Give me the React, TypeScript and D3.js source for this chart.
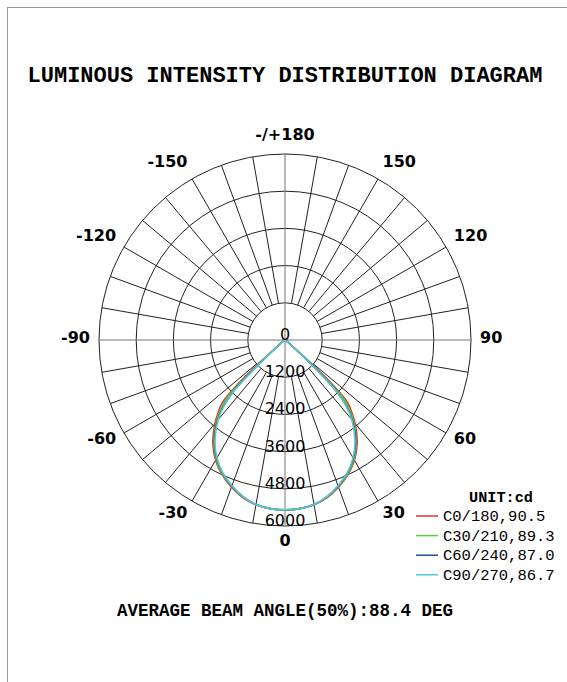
import React from 'react';
import * as d3 from 'd3';

// polar angles (deg from nadir) and intensities in cd
const angles = [0, 5, 10, 15, 20, 25, 30, 35, 40, 42.5, 45, 47.5, 50, 55, 60, 70, 80, 90];
const c0 = [5480, 5460, 5400, 5260, 5050, 4800, 4480, 4060, 3520, 3200, 2850, 1700, 300, 80, 30, 10, 0, 0];
const c30 = [5480, 5460, 5400, 5250, 5030, 4780, 4450, 4010, 3450, 3100, 2680, 1250, 280, 70, 25, 10, 0, 0];
const c60 = [5480, 5460, 5390, 5230, 5010, 4750, 4410, 3970, 3380, 2990, 2380, 950, 260, 65, 22, 8, 0, 0];
const c90 = [5480, 5460, 5390, 5230, 5000, 4740, 4390, 3940, 3350, 2950, 2330, 900, 250, 60, 20, 8, 0, 0];

const seriesNames = ['C0/180,90.5', 'C30/210,89.3', 'C60/240,87.0', 'C90/270,86.7'];
const seriesColors = ['#e8312a', '#5cc93a', '#2a4a9a', '#5ac8d4'];
const ringTicks = [1200, 2400, 3600, 4800, 6000];
const angleLabels = [
  { a: 180, t: '-/+180' }, { a: 150, t: '150' }, { a: -150, t: '-150' },
  { a: 120, t: '120' }, { a: -120, t: '-120' }, { a: 90, t: '90' }, { a: -90, t: '-90' },
  { a: 60, t: '60' }, { a: -60, t: '-60' }, { a: 30, t: '30' }, { a: -30, t: '-30' }, { a: 0, t: '0' },
];

const W = 567, H = 682;
const cx = 285, cy = 340;
const rad = (deg: number) => (deg * Math.PI) / 180;

export default function App() {
  const r = d3.scaleLinear().domain([0, 6000]).range([0, 186]);
  const R = r(6000);

  const line = d3.lineRadial<{ a: number; v: number }>()
    .angle(d => Math.PI - rad(d.a))
    .radius(d => r(d.v))
    .curve(d3.curveCatmullRom.alpha(0.5));

  const toPts = (vals: number[]) => {
    const left = angles.map((a, i) => ({ a: -a, v: vals[i] })).reverse();
    const right = angles.slice(1).map((a, i) => ({ a, v: vals[i + 1] }));
    return left.concat(right);
  };
  const series = [c0, c30, c60, c90];

  const spokes = d3.range(0, 360, 10);
  const mono = '"Liberation Mono", "Courier New", monospace';
  const sans = '"DejaVu Sans", sans-serif';

  return (
    <svg width={W} height={H} style={{ position: 'absolute', left: 0, top: 0, background: '#fff' }}>
      <rect x={7.5} y={7.5} width={W} height={H} fill="none" stroke="#999" strokeWidth={1} />
      <text x={cx} y={82} textAnchor="middle" fontFamily={mono} fontWeight="bold" fontSize={22}>
        LUMINOUS INTENSITY DISTRIBUTION DIAGRAM
      </text>

      <g transform={`translate(${cx},${cy})`}>
        {ringTicks.map(t => (
          <circle key={t} r={r(t)} fill="none" stroke="#222" strokeWidth={1} />
        ))}
        {spokes.map(s => {
          const axis = s % 90 === 0;
          const r0 = axis ? 0 : r(1200);
          return (
            <line key={s}
              x1={r0 * Math.sin(rad(s))} y1={r0 * Math.cos(rad(s))}
              x2={R * Math.sin(rad(s))} y2={R * Math.cos(rad(s))}
              stroke={axis ? '#777' : '#222'} strokeWidth={1} />
          );
        })}
        {series.map((vals, i) => (
          <path key={i} d={line(toPts(vals)) || ''} fill="none" stroke={seriesColors[i]} strokeWidth={1.6} />
        ))}
        <text x={0} y={0} textAnchor="middle" fontFamily={sans} fontSize={16}>0</text>
        {ringTicks.map(t => (
          <text key={t} x={0} y={r(t)} textAnchor="middle" fontFamily={sans} fontSize={16}>{t}</text>
        ))}
        {angleLabels.map(l => {
          const s = Math.sin(rad(l.a));
          const anchor = Math.abs(s) < 0.01 ? 'middle' : s > 0 ? 'start' : 'end';
          return (
            <text key={l.t} x={195 * s} y={203 * Math.cos(rad(l.a)) - 3}
              textAnchor={anchor} dominantBaseline="central" fontFamily={sans} fontWeight="bold" fontSize={16}>
              {l.t}
            </text>
          );
        })}
      </g>

      <g fontFamily={mono}>
        <text x={501} y={502} textAnchor="middle" fontWeight="bold" fontSize={15.2}>UNIT:cd</text>
        {seriesNames.map((n, i) => {
          const y = 516 + i * 19.6;
          return (
            <g key={n}>
              <line x1={416} x2={438} y1={y} y2={y} stroke={seriesColors[i]} strokeWidth={1.5} />
              <text x={443} y={y + 5} fontSize={15.5}>{n}</text>
            </g>
          );
        })}
      </g>

      <text x={cx} y={616} textAnchor="middle" fontFamily={mono} fontWeight="bold" fontSize={17.5}>
        AVERAGE BEAM ANGLE(50%):88.4 DEG
      </text>
    </svg>
  );
}
